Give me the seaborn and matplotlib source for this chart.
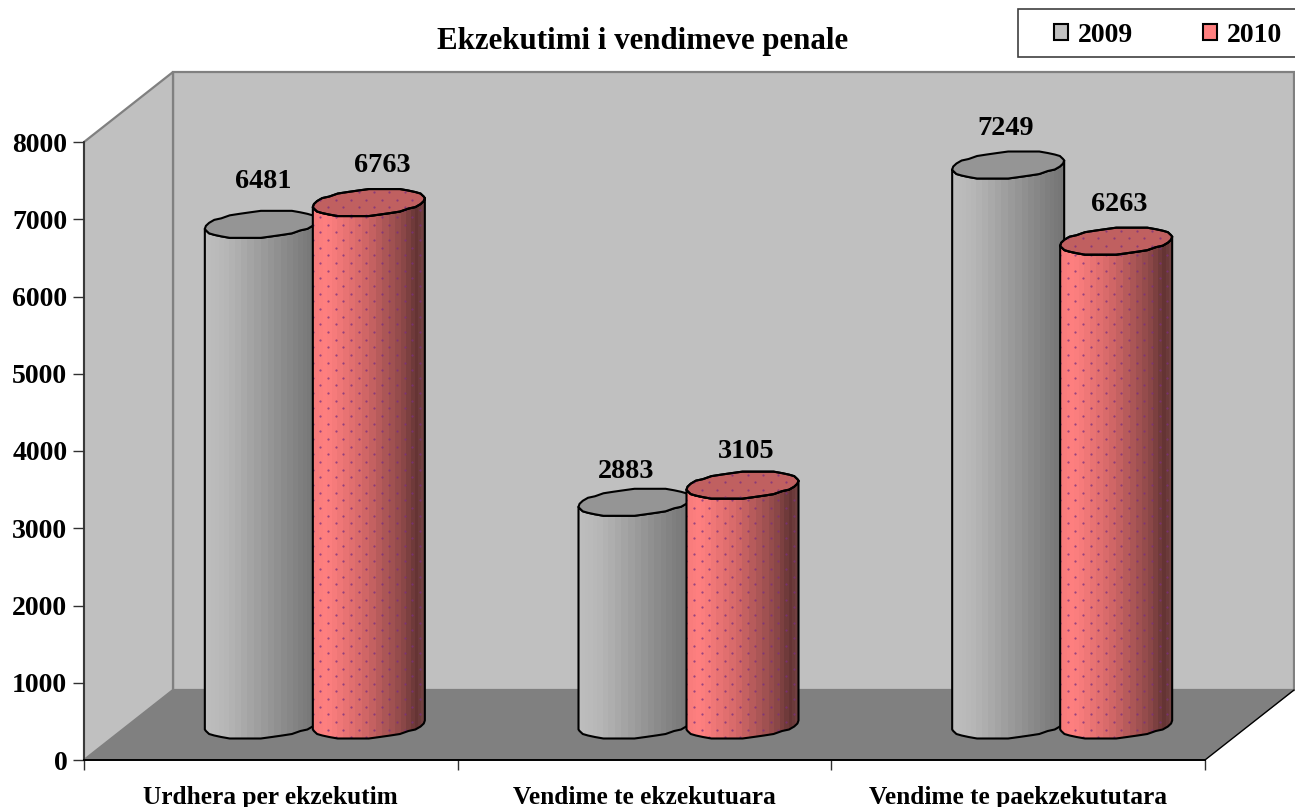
import numpy as np
import pandas as pd
import seaborn as sns
import matplotlib.pyplot as plt
from matplotlib.patches import Patch, Polygon, Rectangle

categories = ['Urdhera per ekzekutim', 'Vendime te ekzekutuara', 'Vendime te paekzekututara']
years = ['2009', '2010']
values_2009 = [6481, 2883, 7249]
values_2010 = [6763, 3105, 6263]
y_ticks = [0, 1000, 2000, 3000, 4000, 5000, 6000, 7000, 8000]

# label offsets from the cylinder top, in pixels (2009 bars then 2010 bars)
label_dx = [2, -8, -2, 13, 4, 3]
label_dy = [43, 31, 37, 37, 34, 37]

W, H = 1295, 807
FONT = 'Liberation Serif'

sns.set_theme(style='white')
plt.rcParams['font.family'] = [FONT, 'DejaVu Serif']
plt.rcParams['font.weight'] = 'bold'
plt.rcParams['text.color'] = 'black'


def axes_px(fig, left, top, right, bottom, **kw):
    """Add axes placed by pixel edges"""
    return fig.add_axes([left / W, 1 - bottom / H, (right - left) / W, (bottom - top) / H], **kw)


def band_colors(stops, levels, n):
    """Colour strips across a cylinder, narrower towards the edges"""
    theta = np.linspace(np.pi, 0, n + 1)
    edges = (np.cos(theta) + 1) / 2
    mids = (edges[:-1] + edges[1:]) / 2
    rgb = np.array([np.interp(mids, stops, [c[i] for c in levels]) for i in range(3)]).T
    return edges, rgb[np.newaxis, :, :] / 255


GRAY_STOPS = ([0, 0.2, 0.6, 1], [(190, 190, 190), (182, 182, 182), (148, 148, 148), (115, 115, 115)])
RED_STOPS = ([0, 0.12, 0.45, 0.8, 0.93, 1],
             [(245, 122, 122), (255, 128, 128), (212, 104, 104), (140, 72, 72), (100, 52, 52), (120, 70, 70)])
CAP_COLORS = ['#959595', '#c06060']


def ellipse(cx, y0, half_w, upp, t):
    """Points of a slightly tilted cylinder end, with the stepped look of the polygon edge"""
    tilt, b = 4, 13.5
    offset = tilt * np.cos(t) + b * np.sin(t)
    offset = np.round(offset / 1.5) * 1.5
    return np.column_stack([cx + half_w * np.cos(t), y0 + offset * upp])


def add_dots(ax, poly, x0, x1, y0, y1, xpp, upp, z):
    """Staggered dot pattern clipped to a shape"""
    dx, dy = 15.3 * xpp, 15.3 * upp
    xs, ys = [], []
    for j, y in enumerate(np.arange(y0, y1, dy / 2)):
        row = np.arange(x0 + (j % 2) * dx / 2, x1, dx)
        xs.extend(row)
        ys.extend([y] * len(row))
    dots = ax.scatter(xs, ys, s=2.6, color='#7a2f80', alpha=0.75, linewidths=0, zorder=z)
    dots.set_clip_box(None)
    dots.set_clip_path(poly)


def draw_cylinder(ax, bar, series, z, xpp, upp):
    """Turn one seaborn bar into a shaded cylinder"""
    cx = bar.get_x() + bar.get_width() / 2
    half_w = 56 * xpp
    top = bar.get_height()
    lower = np.linspace(np.pi, 2 * np.pi, 17)
    bottom_edge = ellipse(cx, 0, half_w, upp, lower)
    top_edge = ellipse(cx, top, half_w, upp, lower)[::-1]
    body = Polygon(np.vstack([bottom_edge, top_edge]), closed=True, facecolor='none',
                   edgecolor='black', linewidth=1.5, zorder=z + 2, joinstyle='round', clip_on=False)
    ax.add_patch(body)

    stops, levels = GRAY_STOPS if series == 0 else RED_STOPS
    edges, rgb = band_colors(stops, levels, 26)
    x_edges = cx - half_w + edges * 2 * half_w
    mesh = ax.pcolormesh(x_edges, [-40 * upp, top + 40 * upp], rgb, zorder=z, antialiased=False)
    mesh.set_clip_box(None)
    mesh.set_clip_path(body)
    if series == 1:
        add_dots(ax, body, cx - half_w, cx + half_w, -20 * upp, top + 20 * upp, xpp, upp, z + 1)

    cap = Polygon(ellipse(cx, top, half_w, upp, np.linspace(0, 2 * np.pi, 33)), closed=True,
                  facecolor=CAP_COLORS[series], edgecolor='black', linewidth=1.5, zorder=z + 3, clip_on=False)
    ax.add_patch(cap)
    if series == 1:
        dots_cap = Polygon(cap.get_xy(), closed=True, facecolor='none', edgecolor='black',
                           linewidth=1.5, zorder=z + 5, clip_on=False)
        ax.add_patch(dots_cap)
        add_dots(ax, dots_cap, cx - half_w, cx + half_w, top - 20 * upp, top + 20 * upp, xpp, upp, z + 4)


fig = plt.figure(figsize=(W / 100, H / 100), dpi=100, facecolor='white')

# walls and floor of the 3D box
bg = axes_px(fig, 0, 0, W, H, zorder=0)
bg.set_xlim(0, W)
bg.set_ylim(H, 0)
bg.axis('off')
wall = '#c0c0c0'
bg.add_patch(Polygon([(173, 72), (1294, 72), (1294, 690), (173, 690)], facecolor=wall, edgecolor='#808080', linewidth=1.6))
bg.add_patch(Polygon([(84, 142), (173, 72), (173, 690), (84, 760)], facecolor=wall, edgecolor='#808080', linewidth=1.6))
bg.add_patch(Polygon([(84, 760), (173, 690), (1295, 690), (1205, 760)], facecolor='#808080', edgecolor='none'))
bg.plot([1205, 1294], [760, 690], color='black', linewidth=1)

# front plane carries the axis lines and tick labels
front = axes_px(fig, 84, 142, 1205, 760, zorder=1)
front.patch.set_alpha(0)
front.set_xlim(-0.5, 2.5)
front.set_ylim(0, 8000)
front.set_yticks(y_ticks)
front.set_xticks([-0.5, 0.5, 1.5, 2.5])
front.set_xticklabels([])
front.set_xticks(range(len(categories)), labels=categories, minor=True)
front.tick_params(axis='y', which='major', left=True, length=8, width=1, color='#303030', pad=4, labelsize=20,
                  labelcolor='black')
front.tick_params(axis='x', which='major', bottom=True, length=7.5, width=1, color='#303030')
front.tick_params(axis='x', which='minor', bottom=False, length=0, pad=18.5, labelsize=18.3, labelcolor='black')
sns.despine(ax=front)
front.spines['left'].set_color('#303030')
front.spines['bottom'].set_color('black')
front.spines['bottom'].set_linewidth(1.4)

# cylinders sit half way into the box depth
ax = axes_px(fig, 128, 107, 1249, 725, zorder=2)
df = pd.DataFrame({
    'category': categories * 2,
    'year': [years[0]] * 3 + [years[1]] * 3,
    'value': values_2009 + values_2010,
})
sns.barplot(data=df, x='category', y='value', hue='year', palette=['#c0c0c0', '#ff8080'],
            width=0.578, gap=0, legend=False, ax=ax)
ax.set_xlim(-0.5, 2.5)
ax.set_ylim(0, 8000)
ax.axis('off')
ax.patch.set_alpha(0)

xpp = 3 / 1121
upp = 8000 / 618
for i, bar in enumerate(list(ax.patches)):
    series = i // 3
    group = i % 3
    draw_cylinder(ax, bar, series, 10 + 10 * group + 8 * series, xpp, upp)
    bar.set_visible(False)
    ax.annotate(str(int(bar.get_height())), (bar.get_x() + bar.get_width() / 2, bar.get_height()),
                xytext=(label_dx[i], label_dy[i]), textcoords='offset pixels', ha='center', va='center',
                fontsize=20.3, fontweight='bold', color='black', annotation_clip=False, zorder=100)
ax.set_xlim(-0.5, 2.5)
ax.set_ylim(0, 8000)

fig.text(643 / W, 1 - 41 / H, 'Ekzekutimi i vendimeve penale', ha='center', va='center',
         fontsize=22.2, fontweight='bold', color='black')

# legend box runs off the right edge, so the frame is drawn apart from the entries
fig.add_artist(Rectangle((1018 / W, 1 - 57 / H), 290 / W, 48 / H, transform=fig.transFigure,
                         facecolor='white', edgecolor='#404040', linewidth=1.2))
handles = [Patch(facecolor='#c0c0c0', edgecolor='black', linewidth=1.5),
           Patch(facecolor='#ff8080', edgecolor='black', linewidth=1.5)]
leg = fig.legend(handles, years, ncol=2, loc='center right', bbox_to_anchor=(1282 / W, 1 - 35 / H),
                 frameon=False, borderaxespad=0, borderpad=0,
                 prop={'family': FONT, 'weight': 'bold', 'size': 20},
                 handlelength=0.5, handleheight=0.5, handletextpad=0.36, columnspacing=2.5)

fig.savefig('out.png', dpi=100)
